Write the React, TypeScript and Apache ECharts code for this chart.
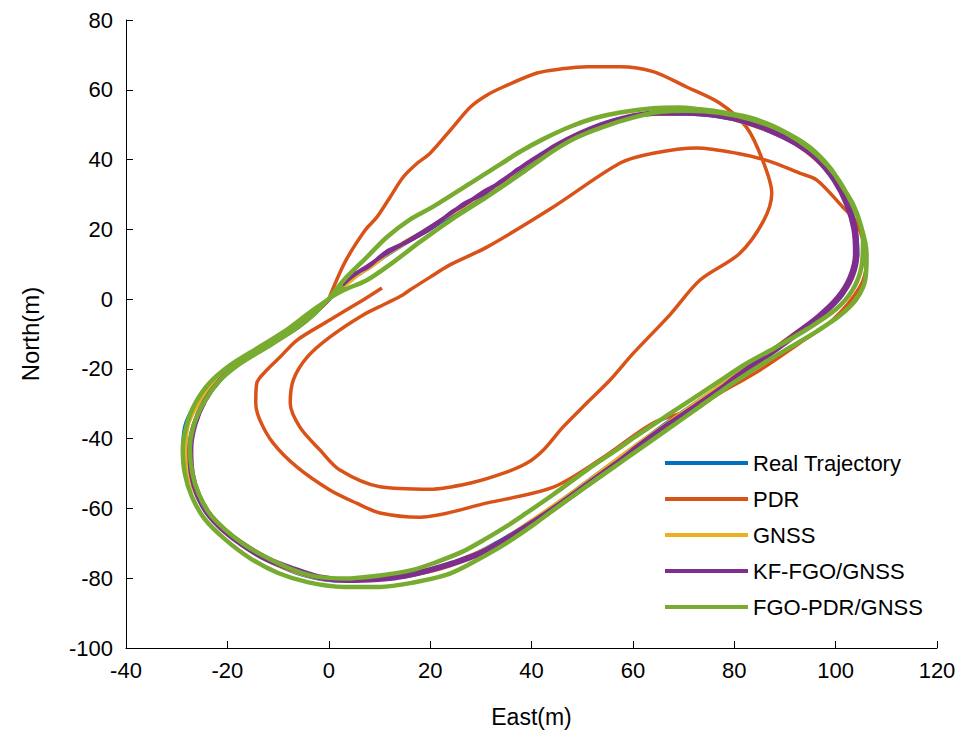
import React, { useEffect, useRef } from "react";
import * as echarts from "echarts";

type P = [number, number];

const xTicks = { min: -40, max: 120, step: 20 };
const yTicks = { min: -100, max: 80, step: 20 };

const legendNames = ["Real Trajectory", "PDR", "GNSS", "KF-FGO/GNSS", "FGO-PDR/GNSS"];

const realLap1: P[] = [
  [0, 0], [4, 5], [8, 9], [14, 15], [20, 20], [27, 26.5], [34, 33], [40, 39], [45, 43.5], [50, 47.3],
  [55, 50.3], [60, 52.2], [65, 53], [71, 53], [77, 52.2], [82, 50.6], [87, 48], [92, 44.5], [96.3, 40],
  [99.8, 34], [102.3, 27], [103.8, 20], [104.2, 13], [103.2, 6.5], [100.7, 0.5], [96.8, -5], [91.5, -10.5],
  [86, -16], [80, -22], [74, -28], [67, -35], [60, -42.5], [53, -50], [46, -57.5], [40, -63.5], [34, -69],
  [28, -73.5], [22, -77], [15, -79.2], [8, -80.3], [1, -80.6], [-5, -78.9], [-11, -75.3], [-16, -71.2],
  [-20.5, -66.5], [-24, -61], [-26.5, -54], [-27.8, -48], [-28.6, -42], [-28, -35.5], [-25.5, -29],
  [-22, -23], [-17.5, -18], [-12.5, -13.5], [-6.5, -8], [-2.5, -3], [0, 0],
];
const realLap2: P[] = [
  [3.8, 4.9], [8.4, 9.6], [13.7, 14.6], [20.4, 20.5], [26.8, 26.2], [34.3, 33.4], [39.7, 38.7], [45.4, 43.9],
  [50.2, 47.6], [55.1, 50.6], [60.3, 52.5], [64.8, 53.2], [71.2, 53.1], [76.8, 52.5], [82.3, 50.9],
  [87.1, 48.3], [92.3, 44.4], [96.5, 40.2], [100.1, 33.8], [102.4, 27.3], [104, 19.8], [104.4, 12.7],
  [103.1, 6.2], [100.9, 0.2], [96.6, -5.3], [91.8, -10.6], [86.2, -16.3], [79.7, -22.4], [74.2, -28.1],
  [67.3, -35.2], [59.8, -42.8], [53.3, -50.1], [45.8, -57.8], [40.3, -63.6], [33.7, -69.3], [28.3, -73.8],
  [21.8, -77.2], [15.3, -79.5], [7.8, -80.6], [1.2, -80.8], [-5.3, -79.1], [-11.2, -75.6], [-16.3, -71.4],
  [-20.4, -66.8], [-24.3, -61.1], [-26.7, -54.3], [-28, -47.8], [-28.8, -41.7], [-28.2, -35.3],
  [-25.7, -28.8], [-22.1, -23.2], [-17.4, -18.2], [-12.7, -13.3], [-6.3, -7.8], [-2.3, -2.8], [0.3, 0.4],
];

const pdrTrack: P[] = [
  [0, 0], [3.2, 10.6], [7.2, 19.8], [9.5, 23.5], [12, 29], [14.7, 35], [17.5, 39], [20, 41.8], [24.5, 49.3],
  [27.9, 55], [31, 58.3], [34.4, 60.8], [41.1, 64.8], [46, 66], [51, 66.6], [57.5, 66.6], [64, 65.2],
  [70.6, 60.8], [77.1, 56.2], [82.4, 49.3], [85.6, 39.8], [87.4, 30.4], [85.8, 22.5], [81, 13],
  [73.2, 5.4], [67.3, -4.5], [60.1, -15.5], [55.5, -23.2], [50.9, -29.8], [46.2, -36.7], [42.3, -43.3],
  [39.1, -47], [34.5, -49.9], [28, -52.7], [20, -54.5], [10.1, -53.8], [2.2, -49], [-1.7, -43.3],
  [-5.7, -36.7], [-7.6, -29.8], [-7, -23.2], [-4.3, -16.7], [0.2, -10.9], [6.7, -4.6], [11.5, -1.1],
  [14.6, 1.2], [16, 2.6], [20, 6.3], [23.9, 9.8], [31.2, 14.9], [44.3, 26.4], [57.5, 39], [64, 41.8],
  [72.6, 43.3], [80.5, 41.8], [87, 39.5], [92.9, 36.1], [96.3, 34.1], [101.4, 26.4], [104.2, 21.8],
  [106.1, 10.3], [104.8, 3.5], [99.4, -6], [92.9, -12.6], [85.1, -20.3], [77.2, -26.9], [71.3, -31.8],
  [64, -35.5], [54.2, -45.3], [44.3, -53.9], [31.3, -58.4], [18, -62.5], [10.1, -61.3], [5.5, -58.5],
  [0.2, -54.7], [-6.3, -48.1], [-11, -41.2], [-13.6, -34.6], [-14.4, -29.8], [-14.2, -24.1], [-12.2, -20.3],
  [-9.6, -16.6], [-6.3, -11.8], [0.2, -6], [6.7, -0.3], [10.5, 3.2],
];

const gnssLap1: P[] = [
  [0, 0], [4.3, 5.6], [8.6, 9.4], [14.2, 15.8], [20.6, 20.9], [26.7, 26.9], [34.4, 33.5], [39.6, 39.4],
  [45.3, 43.8], [49.8, 47.6], [55.3, 50.5], [60.1, 52.6], [65.3, 52.9], [70.8, 53.3], [77.2, 52.3],
  [82.1, 50.4], [87.3, 47.8], [92.1, 44.3], [96.1, 39.8], [99.6, 34.2], [102.1, 27.2], [103.6, 20.1],
  [104, 13.2], [103, 6.6], [100.4, 0.7], [96.5, -4.9], [91.3, -10.3], [85.8, -16.2], [79.8, -22.1],
  [73.7, -28.3], [66.8, -35.4], [59.8, -42.6], [52.7, -50.3], [45.8, -57.6], [39.7, -63.7], [33.8, -69.4],
  [27.6, -73.6], [21.7, -77.1], [14.8, -79.2], [8.2, -80.2], [1.3, -80.4], [-4.7, -78.8], [-10.8, -75.2],
  [-15.7, -71.3], [-20.2, -66.6], [-23.7, -61.1], [-26.3, -54.3], [-27.6, -47.8], [-28.1, -42.2],
  [-27.6, -35.7], [-25.3, -29.3], [-21.7, -23.2], [-17.2, -18.3], [-12.2, -13.7], [-6.2, -8.2],
  [-2.2, -3.2], [0.2, 0.3],
];
const gnssLap2: P[] = [
  [4.6, 5.4], [8.2, 9.8], [14.5, 15.4], [20.1, 20.6], [27.4, 27.1], [33.7, 33.1], [40.3, 39.7], [44.8, 43.4],
  [50.4, 47.8], [54.8, 50.7], [60.4, 52.3], [65.1, 53.4], [71.3, 53.2], [76.7, 52.6], [82.4, 50.7],
  [86.8, 48.4], [92.4, 44.2], [96.6, 40.3], [99.9, 33.7], [102.6, 27.1], [103.9, 19.6], [104.3, 12.8],
  [103.3, 6.1], [100.6, 0.1], [96.9, -5.4], [91.6, -10.8], [86.3, -16.5], [80.3, -22.3], [74.1, -28.4],
  [67.4, -35.1], [60.3, -42.9], [53.4, -50.4], [46.3, -57.9], [40.1, -63.8], [34.3, -69.2], [28.1, -74],
  [22.3, -77.3], [15.1, -79.4], [7.9, -80.5], [0.8, -80.6], [-5.1, -79], [-11.3, -75.5], [-16.1, -71.5],
  [-20.8, -66.4], [-24.2, -60.8], [-26.8, -54.2], [-27.9, -48.1], [-28.3, -41.8], [-27.9, -35.2],
  [-25.6, -29.1], [-21.8, -22.8], [-17.6, -17.8], [-12.4, -13.2], [-6.6, -8.3], [-2.4, -3.1], [0.5, 0.6],
];

const kfLap1: P[] = [
  [0, 0], [2.5, 3.8], [4.5, 6.4], [8, 9.8], [11, 12.8], [15.5, 16.6], [20.6, 21.2], [24, 24.5], [27, 27.6],
  [30.5, 30.2], [33.8, 33.6], [37, 36.8], [40, 39.8], [44.3, 43.7], [49, 47.2], [54.2, 50.2], [60, 52.4],
  [65, 53.1], [70.6, 53.1], [77, 52.3], [82, 50.7], [87, 48.1], [92, 44.5], [96.2, 40], [99.6, 34],
  [102.1, 27], [103.5, 20], [103.8, 13], [102.8, 6.5], [100.3, 0.5], [96.4, -5], [91.4, -10.5],
  [86, -16.2], [80.2, -22.2], [77.2, -25.6], [72, -30.8], [66.7, -36], [61.2, -41.8], [57.5, -46],
  [51, -52.8], [44.3, -59.8], [40.7, -63.3], [34.5, -68.9], [29.8, -72.6], [24.5, -75.4], [19.9, -77.4],
  [14, -79.2], [10, -79.9], [4, -80.3], [-2, -79.4], [-7, -77.1], [-12, -74.3], [-16.5, -70.4],
  [-20.3, -66.3], [-23.3, -61.8], [-25.6, -56], [-26.8, -50], [-27.1, -43], [-26.3, -36], [-24.3, -29],
  [-21.3, -23], [-17.3, -18], [-12.3, -13.5], [-6, -8], [-2, -3], [0, 0],
];
const kfLap2: P[] = [
  [2.7, 4.4], [5, 7.2], [7.6, 9.1], [11.4, 13.6], [15.2, 16.2], [20.2, 20.3], [24.3, 25], [26.6, 26.9],
  [30.8, 31], [33.5, 33.1], [37.4, 37.3], [40.5, 40.2], [44.8, 44.2], [49.4, 47.6], [54.6, 50.6],
  [60.3, 52.8], [65.2, 53.5], [70.8, 53.5], [77.3, 52.6], [82.4, 51], [87.4, 48.4], [92.5, 44.8],
  [96.7, 40.3], [100, 34.2], [102.6, 27.2], [104, 20], [104.3, 12.8], [103.3, 6.2], [100.7, 0.1],
  [96.7, -5.5], [91.6, -11.1], [86.1, -16.9], [80.1, -23], [77, -26.4], [71.8, -31.7], [66.5, -37],
  [61, -42.8], [57.3, -47], [50.8, -53.7], [44.6, -60.1], [40.3, -64.3], [34.2, -69.8], [29.5, -73.4],
  [24.2, -76.2], [19.6, -78.1], [13.8, -79.9], [9.8, -80.5], [3.8, -80.8], [-2.2, -79.9], [-7.3, -77.6],
  [-12.4, -74.7], [-16.9, -70.8], [-20.7, -66.6], [-23.7, -62.1], [-26, -56.3], [-27.2, -50.2],
  [-27.5, -43.1], [-26.7, -36.1], [-24.6, -29.2], [-21.6, -23.3], [-17.6, -18.3], [-12.6, -13.8],
  [-6.3, -8.3], [-2.2, -3.3], [0.2, 0.1],
];

const fgoLap1: P[] = [
  [0, 0], [3, 5.5], [7.5, 12], [11.5, 17.8], [16, 22.8], [20.6, 26.5], [27.9, 33.2], [33.8, 38.6],
  [37.8, 42.3], [42.5, 46], [47.6, 49.4], [52.5, 51.9], [57.5, 53.5], [64, 54.7], [69, 54.9], [73.2, 54.4],
  [78, 53.5], [83.2, 52], [87, 50], [90, 47.9], [93.5, 45], [96.3, 41.8], [99, 37.5], [101.4, 32.1],
  [103.5, 27], [104.8, 22], [105.4, 16.9], [105.1, 9.2], [103.3, 2.5], [100, -3], [94.5, -8.5],
  [88, -14], [82, -18.8], [77.2, -23.4], [73.2, -27.2], [66.7, -33.4], [60.1, -39.8], [57.5, -42.5],
  [50.9, -49], [44.3, -56], [38.3, -62], [35.2, -65], [31.2, -68.5], [26.5, -72.3], [21, -75.5],
  [16.6, -77.6], [10.1, -79.2], [3, -80.1], [-3, -79.4], [-8, -77], [-13, -73.5], [-17, -70],
  [-20.5, -66], [-23.5, -61.5], [-25.6, -56], [-26.9, -50], [-27.4, -43], [-26.6, -36], [-24.6, -29.5],
  [-21.6, -23.5], [-18, -19], [-13, -14.5], [-7, -9], [-3, -4.5], [0, 0],
];
const fgoLap2: P[] = [
  [3, 2.6], [7.5, 5.4], [12, 9.8], [18, 16.4], [24, 22.6], [31.2, 29.3], [38, 36], [44.3, 42.5],
  [49, 46.4], [54.2, 49.4], [60, 52], [65, 53.6], [71, 54], [77, 53.4], [83, 51.6], [88, 49.1],
  [92.5, 45.6], [96.6, 41], [100.2, 35], [103, 28], [105, 21], [106.1, 13], [105.9, 6], [104.1, 0],
  [100.6, -5], [96.2, -9.3], [92, -13], [86.4, -17.8], [79.8, -24], [73.2, -30.8], [66.7, -37.5],
  [60.1, -44.2], [57.5, -46.9], [50.9, -53.6], [44.3, -60.5], [40.3, -64.8], [36.5, -68.6], [33.2, -71.6],
  [28, -75.8], [23.3, -79], [16.5, -81.3], [10.1, -82.5], [3, -82.5], [-4, -81.2], [-10, -78.5],
  [-15.5, -74.3], [-20.5, -68.8], [-24.5, -63], [-27, -56.6], [-28.4, -50], [-28.8, -43], [-28, -36],
  [-26.4, -30], [-23.5, -24], [-19.5, -19], [-14, -14], [-8, -8.5], [-3, -3], [0, 0], [3, 3.6],
];

const colors = ["#0072BD", "#D95319", "#EDB120", "#7E2F8E", "#77AC30"];
const widths = [3, 3.5, 3, 4, 4.5];

export default function App() {
  const ref = useRef<HTMLDivElement>(null);
  useEffect(() => {
    if (!ref.current) return;
    const chart = echarts.init(ref.current, undefined, { renderer: "svg" });
    const seriesData: P[][] = [
      [...realLap1, ...realLap2],
      pdrTrack,
      [...gnssLap1, ...gnssLap2],
      [...kfLap1, ...kfLap2],
      [...fgoLap1, ...fgoLap2],
    ];
    const font = "Liberation Sans, Arial, sans-serif";
    chart.setOption({
      animation: false,
      backgroundColor: "#fff",
      grid: { left: 126, right: 34, top: 20, bottom: 88, containLabel: false },
      xAxis: {
        type: "value",
        min: xTicks.min,
        max: xTicks.max,
        interval: xTicks.step,
        name: "East(m)",
        nameLocation: "middle",
        nameGap: 57,
        nameTextStyle: { fontSize: 23, color: "#000", fontFamily: font },
        axisLine: { onZero: false, lineStyle: { color: "#000", width: 1 } },
        axisTick: { inside: true, length: 7, lineStyle: { color: "#000" } },
        axisLabel: { color: "#000", fontSize: 22, margin: 11, fontFamily: font },
        splitLine: { show: false },
      },
      yAxis: {
        type: "value",
        min: yTicks.min,
        max: yTicks.max,
        interval: yTicks.step,
        name: "North(m)",
        nameLocation: "middle",
        nameGap: 84,
        nameTextStyle: { fontSize: 24, color: "#000", fontFamily: font },
        axisLine: { onZero: false, lineStyle: { color: "#000", width: 1 } },
        axisTick: { inside: true, length: 7, lineStyle: { color: "#000" } },
        axisLabel: { color: "#000", fontSize: 22, margin: 13, fontFamily: font },
        splitLine: { show: false },
      },
      legend: {
        data: legendNames,
        orient: "vertical",
        left: 665,
        top: 452,
        padding: 0,
        icon: "rect",
        itemWidth: 83,
        itemHeight: 4,
        itemGap: 14,
        textStyle: { fontSize: 22, color: "#000", fontFamily: font, lineHeight: 22 },
        backgroundColor: "transparent",
      },
      series: legendNames.map((name, i) => ({
        name,
        type: "line",
        data: seriesData[i],
        symbol: "none",
        showSymbol: false,
        smooth: 0.3,
        color: colors[i],
        lineStyle: { width: widths[i], color: colors[i] },
        z: 2 + i,
      })),
    });
    return () => chart.dispose();
  }, []);
  return <div ref={ref} style={{ width: 971, height: 736, position: "absolute", left: 0, top: 0 }} />;
}
